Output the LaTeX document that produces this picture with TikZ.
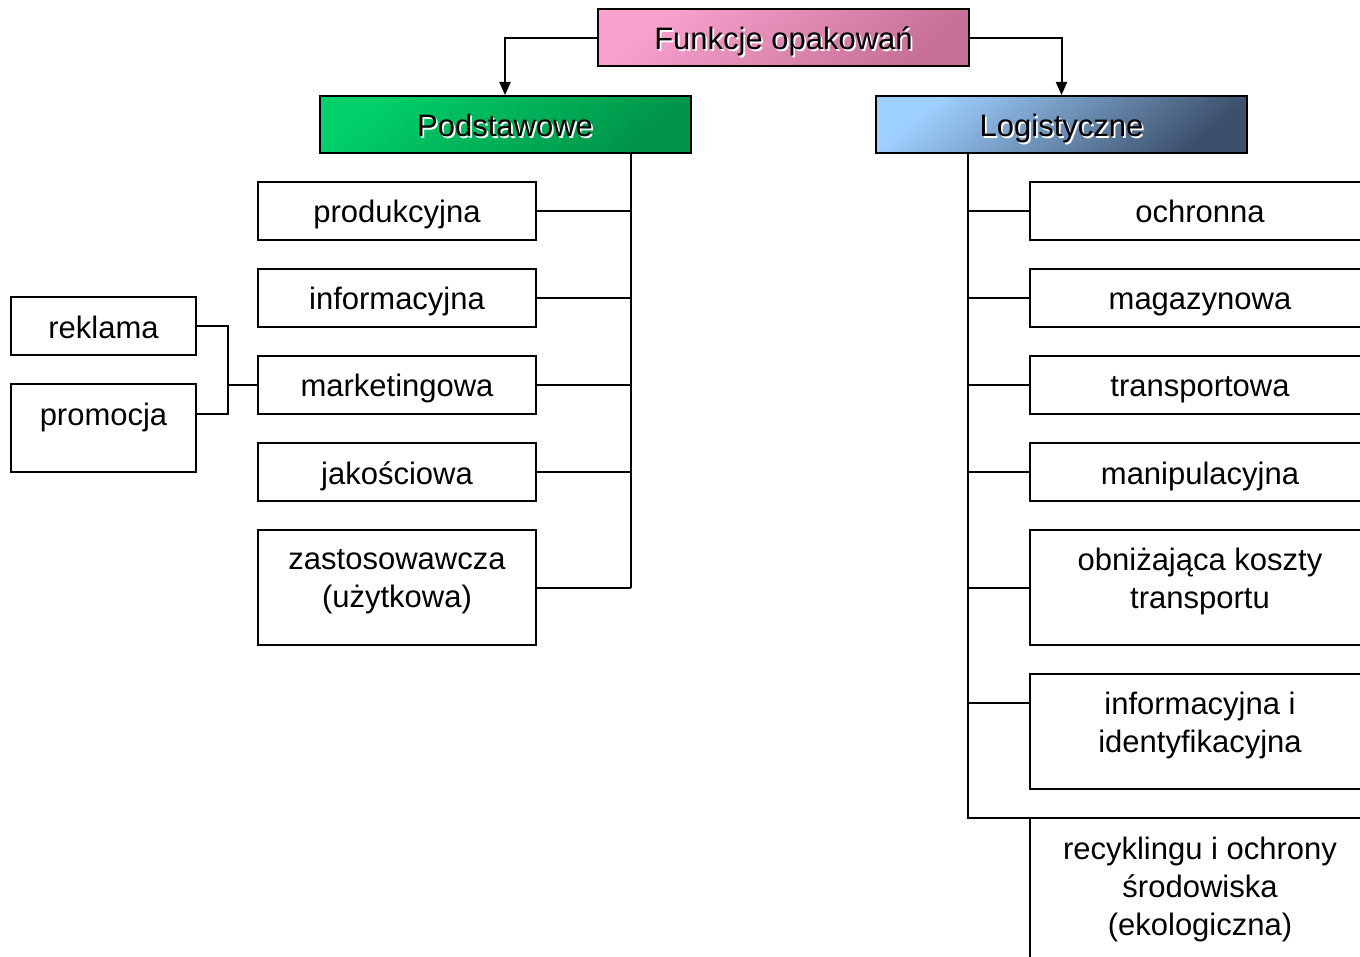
\documentclass[tikz,border=0pt]{standalone}
\usepackage{fontspec}
\setmainfont{Liberation Sans}
\usetikzlibrary{arrows.meta,positioning,calc}
\definecolor{PinkA}{RGB}{250,162,206}
\definecolor{PinkB}{RGB}{198,112,152}
\definecolor{GreenA}{RGB}{0,208,106}
\definecolor{GreenB}{RGB}{0,148,72}
\definecolor{BlueA}{RGB}{158,208,255}
\definecolor{BlueB}{RGB}{60,80,108}
% text with a light shadow, as in the three header boxes
\newcommand{\shtxt}[1]{\makebox[0pt][l]{\hspace{1.8pt}\raisebox{-1.8pt}{\color{white}#1}}#1}
\tikzset{
  box/.style={draw=black,line width=2pt,align=center,inner sep=0pt,outer sep=0pt,minimum width=278pt,minimum height=58pt,fill=white},
  onebox/.style={box,text height=29pt,text depth=5pt},
  rbox/.style={onebox,minimum width=340pt},
  tallbox/.style={box,minimum width=340pt,minimum height=115pt,text depth=18pt},
  head/.style 2 args={draw=black,line width=2pt,inner sep=0pt,minimum width=371pt,minimum height=57pt,
    top color=#1,bottom color=#2,shading angle=40,text height=29pt,text depth=5pt},
  link/.style={line width=2pt},
  arr/.style={link,-{Triangle[length=13pt,width=11pt]}},
}

\begin{document}
\begin{tikzpicture}[x=1pt,y=-1pt,font=\fontsize{31}{38}\selectfont]
  \useasboundingbox (0,0) rectangle (1360,957);
  \clip (0,0) rectangle (1360,957);

  % --- headers ---
  \node[head={PinkA}{PinkB}] (top) at (783.5,38) {\shtxt{Funkcje opakowań}};
  \node[head={GreenA}{GreenB}] (pod) at (505,124.5) {\shtxt{Podstawowe}};
  \node[head={BlueA}{BlueB}] (log) at (1061.5,124.5) {\shtxt{Logistyczne}};

  \draw[arr] (top.west) -| (pod.north);
  \draw[arr] (top.east) -| (log.north);

  % --- basic functions ---
  \node[onebox] (prod) at (397,211) {produkcyjna};
  \node[onebox, below=29pt of prod] (info) {informacyjna};
  \node[onebox, below=29pt of info] (mark) {marketingowa};
  \node[onebox, below=29pt of mark] (jak) {jakościowa};
  \node[tallbox, minimum width=278pt, below=29pt of jak] (zast) {zastosowawcza\\(użytkowa)};

  \coordinate (lt) at ($(pod.south east)+(-61,0)$);
  \draw[link] (lt) -- (lt |- zast.east);
  \foreach \n in {prod,info,mark,jak,zast}
    \draw[link] (\n.east) -- (\n.east -| lt);

  % marketing sub-functions
  \node[onebox, minimum width=185pt] (rekl) at (103.5,326.5) {reklama};
  \node[onebox, minimum width=185pt, below=29pt of rekl, minimum height=87pt, text depth=34pt] (prom) {promocja};

  \coordinate (lb) at ($(mark.west)+(-30,0)$);
  \coordinate (promc) at ($(prom.north east)+(0,29)$);
  \draw[link] (rekl.east) -| (lb |- promc) -- (promc);
  \draw[link] (lb) -- (mark.west);

  % --- logistic functions ---
  \node[rbox] (ochr) at (1200,211) {ochronna};
  \node[rbox, below=29pt of ochr] (mag) {magazynowa};
  \node[rbox, below=29pt of mag] (trans) {transportowa};
  \node[rbox, below=29pt of trans] (manip) {manipulacyjna};
  \node[tallbox, below=29pt of manip] (obn) {obniżająca koszty\\transportu};
  \node[tallbox, below=29pt of obn] (infid) {informacyjna i\\identyfikacyjna};
  \node[tallbox, below=29pt of infid, minimum height=170pt, text depth=34pt] (recyk) {recyklingu i ochrony\\środowiska\\(ekologiczna)};

  \coordinate (rt) at ($(log.south west)+(93,0)$);
  \draw[link] (rt) |- (recyk.north west);
  \foreach \n in {ochr,mag,trans,manip,obn}
    \draw[link] (\n.west -| rt) -- (\n.west);
  \coordinate (infc) at ($(infid.north west)+(0,29)$);
  \draw[link] (infc -| rt) -- (infc);
\end{tikzpicture}
\end{document}
